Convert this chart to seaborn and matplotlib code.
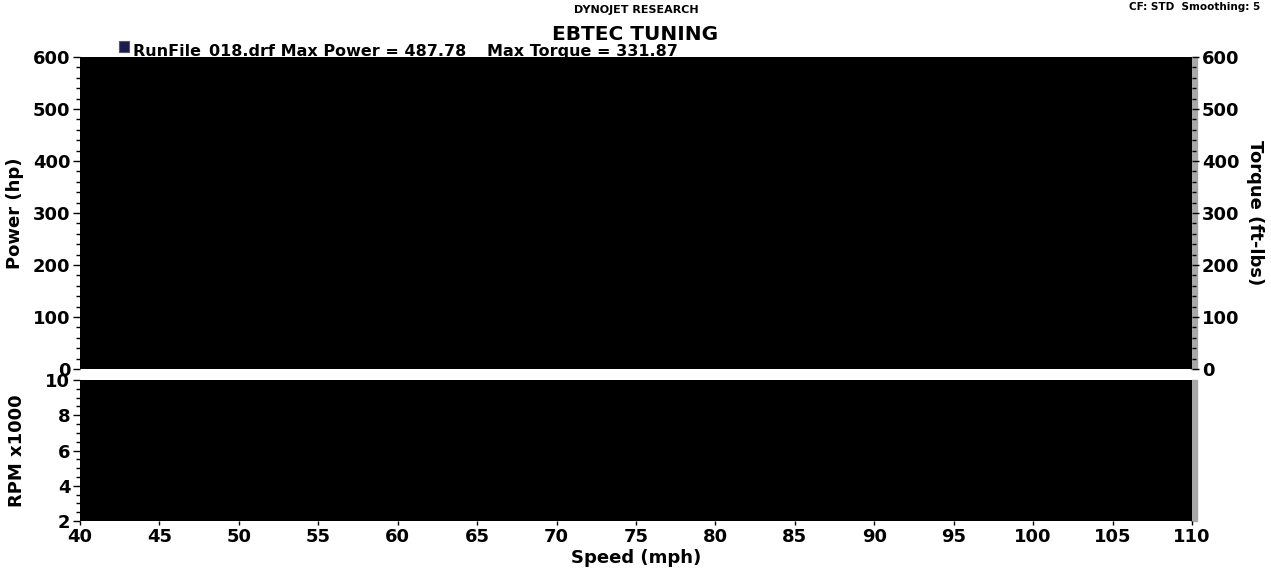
import matplotlib
matplotlib.use("Agg")
import matplotlib.pyplot as plt
import matplotlib.patches as mpatches
from matplotlib.ticker import MultipleLocator
import seaborn as sns
import pandas as pd

# dyno run (curves are drawn black on the black panels, as in the printout)
speed = [40, 45, 50, 55, 60, 65, 70, 75, 80, 85, 90, 95, 100, 105, 110]
power = [190, 225, 262, 300, 338, 372, 405, 432, 455, 472, 484, 487.78, 480, 466, 448]
torque = [265, 278, 292, 305, 316, 324, 330, 331.87, 330, 326, 320, 312, 302, 290, 276]
rpm_k = [3.6, 4.0, 4.5, 4.9, 5.4, 5.8, 6.3, 6.7, 7.2, 7.6, 8.1, 8.5, 9.0, 9.4, 9.8]

run_name = "RunFile_018.drf"
max_power = 487.78
max_torque = 331.87

df = pd.DataFrame({"speed": speed, "power": power, "torque": torque, "rpm": rpm_k})

sns.set_style("white")
plt.rcParams["font.family"] = ["DejaVu Sans"]
plt.rcParams["font.weight"] = "bold"
plt.rcParams["text.color"] = "black"
plt.rcParams["axes.labelcolor"] = "black"
plt.rcParams["xtick.color"] = "black"
plt.rcParams["ytick.color"] = "black"

W, H = 1271, 572
fig = plt.figure(figsize=(W / 100, H / 100), dpi=100)


def fx(px):
    return px / W


def fy(py):
    return 1 - py / H


ax_top = fig.add_axes([fx(80), fy(369), fx(1192) - fx(80), fy(57) - fy(369)])
ax_bot = fig.add_axes([fx(80), fy(521), fx(1192) - fx(80), fy(380) - fy(521)])
ax_tq = ax_top.twinx()

for ax in (ax_top, ax_bot):
    ax.set_facecolor("black")
    for s in ax.spines.values():
        s.set_visible(False)
ax_tq.patch.set_visible(False)
for s in ax_tq.spines.values():
    s.set_visible(False)

# grey shadow on the right edge of each panel
for top, bot in ((57, 369), (380, 521)):
    fig.patches.append(mpatches.Rectangle((fx(1191), fy(bot)), fx(6), fy(top) - fy(bot),
                                          transform=fig.transFigure, color="#a8a8a8",
                                          zorder=-2))

sns.lineplot(data=df, x="speed", y="power", ax=ax_top, color="black", linewidth=1.5)
sns.lineplot(data=df, x="speed", y="torque", ax=ax_tq, color="black", linewidth=1.5)
sns.lineplot(data=df, x="speed", y="rpm", ax=ax_bot, color="black", linewidth=1.5)

ax_top.set_xlim(40, 110)
ax_bot.set_xlim(40, 110)
ax_top.set_ylim(0, 600)
ax_tq.set_ylim(0, 600)
ax_bot.set_ylim(2, 10)

tick_kw = dict(labelsize=13, width=1, color="black", labelcolor="black", pad=2)
ax_top.yaxis.set_major_locator(MultipleLocator(100))
ax_top.yaxis.set_minor_locator(MultipleLocator(20))
ax_tq.yaxis.set_major_locator(MultipleLocator(100))
ax_tq.yaxis.set_minor_locator(MultipleLocator(20))
ax_bot.yaxis.set_major_locator(MultipleLocator(2))
ax_bot.yaxis.set_minor_locator(MultipleLocator(0.5))
ax_bot.xaxis.set_major_locator(MultipleLocator(5))

ax_top.tick_params(axis="y", which="major", left=True, length=5, **tick_kw)
ax_top.tick_params(axis="y", which="minor", left=True, length=3, width=1)
ax_tq.tick_params(axis="y", which="major", right=True, length=5, **tick_kw)
ax_tq.tick_params(axis="y", which="minor", right=True, length=3, width=1)
ax_bot.tick_params(axis="y", which="major", left=True, length=5, **tick_kw)
ax_bot.tick_params(axis="y", which="minor", left=True, length=3, width=1)
ax_bot.tick_params(axis="x", which="major", bottom=True, length=3, **tick_kw)
ax_top.tick_params(axis="x", bottom=False, labelbottom=False)
ax_top.set_xlabel("")

for ax in (ax_top, ax_tq, ax_bot):
    for lab in ax.get_xticklabels() + ax.get_yticklabels():
        lab.set_fontweight("bold")

ax_top.set_ylabel("Power (hp)", fontsize=13, fontweight="bold", labelpad=6)
ax_tq.set_ylabel("Torque (ft-lbs)", fontsize=13, fontweight="bold", rotation=270, labelpad=18)
ax_bot.set_ylabel("RPM x1000", fontsize=13, fontweight="bold", labelpad=14)
ax_bot.set_xlabel("Speed (mph)", fontsize=13, fontweight="bold", labelpad=2)

fig.text(fx(636), fy(10), "DYNOJET RESEARCH", ha="center", va="center", fontsize=8, fontweight="bold")
fig.text(fx(635), fy(35), "EBTEC TUNING", ha="center", va="center", fontsize=14.5, fontweight="bold")
fig.text(fx(1260), fy(7), "CF: STD  Smoothing: 5", ha="right", va="center", fontsize=7.5, fontweight="bold")

# run legend sits behind the top panel, so its lower edge is cut off
fig.patches.append(mpatches.Rectangle((fx(119), fy(52)), fx(10), fy(41) - fy(52),
                                      transform=fig.transFigure, facecolor="#1c1c4c",
                                      edgecolor="#555577", linewidth=0.8, zorder=-1))
fig.text(fx(133), fy(56), f"{run_name} Max Power = {max_power:.2f}", ha="left", va="baseline",
         fontsize=11.5, fontweight="bold", zorder=-1)
fig.text(fx(487), fy(56), f"Max Torque = {max_torque:.2f}", ha="left", va="baseline",
         fontsize=11.5, fontweight="bold", zorder=-1)

fig.savefig("out.png", dpi=100)
